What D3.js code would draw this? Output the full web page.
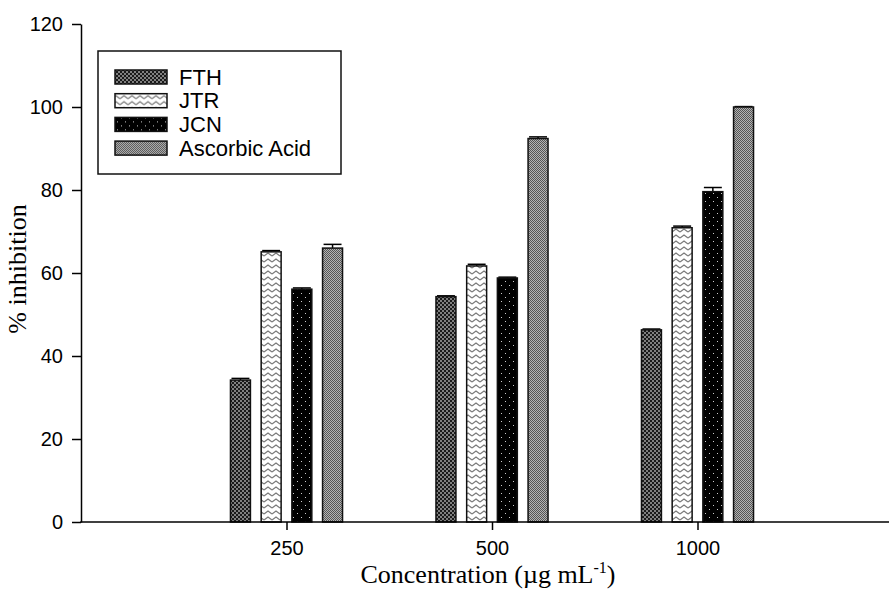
<!DOCTYPE html>
<html>
<head>
<meta charset="utf-8">
<script src="https://cdn.jsdelivr.net/npm/d3@7"></script>
<style>
  body { margin: 0; background: #fff; }
  svg { display: block; }
  .tick text { font-family: "Liberation Sans", Arial, sans-serif; font-size: 20px; fill: #000; }
</style>
</head>
<body>
<svg id="chart" width="889" height="590"></svg>
<script>
const concentrations = ["250", "500", "1000"];
const seriesNames = ["FTH", "JTR", "JCN", "Ascorbic Acid"];
const FTH = [34.2, 54.3, 46.3];
const JTR = [65.1, 61.7, 70.9];
const JCN = [56.1, 58.8, 79.6];
const ascorbic = [66.0, 92.4, 100.0];
const FTH_err = [0.4, 0.2, 0.2];
const JTR_err = [0.3, 0.4, 0.4];
const JCN_err = [0.3, 0.2, 1.0];
const ascorbic_err = [0.9, 0.4, 0.1];
const yTicks = [0, 20, 40, 60, 80, 100, 120];

const seriesVals = [FTH, JTR, JCN, ascorbic];
const seriesErr = [FTH_err, JTR_err, JCN_err, ascorbic_err];
const patternIds = ["pFTH", "pJTR", "pJCN", "pAA"];

const drawChart = (svg_name) => {
  let chart = d3.select(svg_name);
  let margin = {left: 81, top: 24, bottom: 68};
  let height = +chart.attr("height");
  let width = +chart.attr("width");

  addPatterns(chart);

  let y = d3.scaleLinear()
    .domain([0, 120])
    .range([height - margin.bottom, margin.top]);
  // categories sit at 1/4, 2/4, 3/4 of a range that runs past the right edge
  let x = d3.scalePoint()
    .domain(concentrations)
    .range([margin.left, margin.left + 822])
    .padding(1);
  let inner = d3.scaleBand()
    .domain(seriesNames)
    .range([-61.4, 61.4])
    .paddingInner(0.35)
    .paddingOuter(0.175);

  let rows = [];
  seriesNames.forEach((s, si) => {
    concentrations.forEach((c, ci) => {
      rows.push({series: s, si: si, conc: c, value: seriesVals[si][ci], err: seriesErr[si][ci]});
    });
  });

  // error bars (upper only)
  let eb = chart.append("g").attr("stroke", "#000").attr("stroke-width", 1.5);
  eb.selectAll("line.v").data(rows).enter().append("line")
    .attr("x1", d => x(d.conc) + inner(d.series) + inner.bandwidth() / 2)
    .attr("x2", d => x(d.conc) + inner(d.series) + inner.bandwidth() / 2)
    .attr("y1", d => y(d.value))
    .attr("y2", d => y(d.value + d.err));
  eb.selectAll("line.c").data(rows).enter().append("line")
    .attr("x1", d => x(d.conc) + inner(d.series) + 1)
    .attr("x2", d => x(d.conc) + inner(d.series) + inner.bandwidth() - 1)
    .attr("y1", d => y(d.value + d.err))
    .attr("y2", d => y(d.value + d.err));

  chart.append("g").selectAll("rect")
    .data(rows).enter()
    .append("rect")
      .attr("x", d => x(d.conc) + inner(d.series))
      .attr("y", d => y(d.value))
      .attr("width", inner.bandwidth())
      .attr("height", d => y(0) - y(d.value))
      .attr("fill", d => `url(#${patternIds[d.si]})`)
      .attr("stroke", "#111")
      .attr("stroke-width", 1.5);

  addYAxis(chart, y, margin);
  addXAxis(chart, x, margin, height, width);
  addLegend(chart);
}

const addPatterns = (chart) => {
  let defs = chart.append("defs");
  // FTH: dark dense checker
  let p1 = defs.append("pattern").attr("id", "pFTH").attr("patternUnits", "userSpaceOnUse")
    .attr("width", 4).attr("height", 4);
  p1.append("rect").attr("width", 4).attr("height", 4).attr("fill", "#1a1a1a");
  p1.append("rect").attr("x", 0).attr("y", 0).attr("width", 2).attr("height", 2).attr("fill", "#808080");
  p1.append("rect").attr("x", 2).attr("y", 2).attr("width", 2).attr("height", 2).attr("fill", "#808080");
  // JTR: white with zigzag
  let p2 = defs.append("pattern").attr("id", "pJTR").attr("patternUnits", "userSpaceOnUse")
    .attr("width", 8).attr("height", 6);
  p2.append("rect").attr("width", 8).attr("height", 6).attr("fill", "#fff");
  p2.append("path").attr("d", "M0,4 L4,1 L8,4").attr("fill", "none")
    .attr("stroke", "#7a7a7a").attr("stroke-width", 1.2);
  // JCN: black with sparse white dots
  let p3 = defs.append("pattern").attr("id", "pJCN").attr("patternUnits", "userSpaceOnUse")
    .attr("width", 8).attr("height", 8);
  p3.append("rect").attr("width", 8).attr("height", 8).attr("fill", "#000");
  p3.append("rect").attr("x", 1).attr("y", 1).attr("width", 1).attr("height", 1).attr("fill", "#ccc");
  p3.append("rect").attr("x", 5).attr("y", 5).attr("width", 1).attr("height", 1).attr("fill", "#ccc");
  // Ascorbic acid: mid gray fine checker
  let p4 = defs.append("pattern").attr("id", "pAA").attr("patternUnits", "userSpaceOnUse")
    .attr("width", 2).attr("height", 2);
  p4.append("rect").attr("width", 2).attr("height", 2).attr("fill", "#b4b4b4");
  p4.append("rect").attr("x", 0).attr("y", 0).attr("width", 1).attr("height", 1).attr("fill", "#555");
  p4.append("rect").attr("x", 1).attr("y", 1).attr("width", 1).attr("height", 1).attr("fill", "#555");
}

const addYAxis = (chart, y, margin) => {
  let y_axis = d3.axisLeft(y).tickValues(yTicks).tickSize(9).tickPadding(9).tickSizeOuter(0);
  let g = chart.append("g")
    .attr("transform", `translate(${margin.left},0)`)
    .call(y_axis);
  g.selectAll("path, line").attr("stroke", "#000").attr("stroke-width", 1.5);

  chart.append("text")
    .attr("transform", `translate(26,269) rotate(-90)`)
    .style("font-family", "'Liberation Serif', 'Times New Roman', serif")
    .style("font-size", "26px")
    .style("text-anchor", "middle")
    .text("% inhibition");
}

const addXAxis = (chart, x, margin, height, width) => {
  let x_axis = d3.axisBottom(x).tickSize(8).tickPadding(11).tickSizeOuter(0);
  let g = chart.append("g")
    .attr("transform", `translate(0,${height - margin.bottom})`)
    .call(x_axis);
  g.select(".domain").remove();
  g.selectAll("line").attr("stroke", "#000").attr("stroke-width", 1.5);
  g.append("line")
    .attr("x1", margin.left - 0.75).attr("x2", width)
    .attr("stroke", "#000").attr("stroke-width", 1.5);

  let t = chart.append("text")
    .attr("x", 488).attr("y", 583)
    .style("font-family", "'Liberation Serif', 'Times New Roman', serif")
    .style("font-size", "26px")
    .style("text-anchor", "middle");
  t.append("tspan").text("Concentration (\u00b5g mL");
  t.append("tspan").attr("dy", -10).style("font-size", "16px").text("-1");
  t.append("tspan").attr("dy", 10).text(")");
}

const addLegend = (chart) => {
  let lg = chart.append("g");
  lg.append("rect")
    .attr("x", 98).attr("y", 51).attr("width", 243).attr("height", 123)
    .attr("fill", "#fff").attr("stroke", "#111").attr("stroke-width", 1.5);
  let items = lg.selectAll("g.item").data(seriesNames).enter().append("g")
    .attr("transform", (d, i) => `translate(0,${77 + i * 23.7})`);
  items.append("rect")
    .attr("x", 115).attr("y", -7).attr("width", 52).attr("height", 14)
    .attr("fill", (d, i) => `url(#${patternIds[i]})`)
    .attr("stroke", "#111").attr("stroke-width", 1.5);
  items.append("text")
    .attr("x", 179).attr("y", 0).attr("dy", "0.35em")
    .style("font-family", "'Liberation Sans', Arial, sans-serif")
    .style("font-size", "22px")
    .text(d => d);
}

drawChart("#chart");
</script>
</body>
</html>
